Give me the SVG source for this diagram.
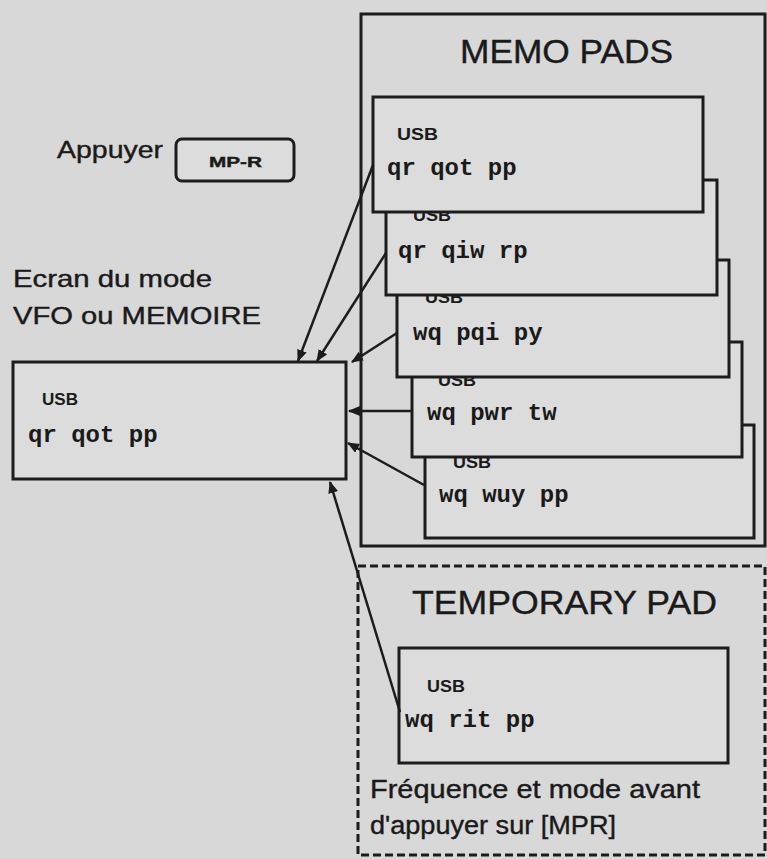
<svg xmlns="http://www.w3.org/2000/svg" width="767" height="859" viewBox="0 0 767 859">
<defs>
<style>
.box{fill:#dcdcdc;stroke:#1c1c1c;stroke-width:3}
.frame{fill:none;stroke:#1c1c1c;stroke-width:3}
.dash{fill:none;stroke:#1c1c1c;stroke-width:3;stroke-dasharray:8 4}
.lbl{font-family:"Liberation Sans",Arial,sans-serif;fill:#1a1a1a;stroke:#1a1a1a;stroke-width:0.4}
.title{font-family:"Liberation Sans",Arial,sans-serif;font-size:33px;fill:#1a1a1a;stroke:#1a1a1a;stroke-width:0.4}
.usb{font-family:"Liberation Sans",Arial,sans-serif;font-size:17px;font-weight:bold;fill:#1a1a1a}
.freq{font-family:"Liberation Mono","Courier New",monospace;font-size:24px;font-weight:bold;fill:#1a1a1a}
.conn{stroke:#1c1c1c;stroke-width:2.5;fill:none;marker-end:url(#ah)}
</style>
<marker id="ah" viewBox="0 0 12 10" refX="11" refY="5" markerWidth="12" markerHeight="10" markerUnits="userSpaceOnUse" orient="auto">
<path d="M0,0 L12,5 L0,10 Z" fill="#1c1c1c"/>
</marker>
</defs>
<rect x="0" y="0" width="767" height="859" fill="#d8d8d8"/>

<g id="appuyer">
<text class="lbl" x="57" y="158" font-size="24" textLength="106" lengthAdjust="spacingAndGlyphs">Appuyer</text>
<rect x="176" y="139" width="118" height="42" rx="6" ry="6" class="box" stroke-width="3.5"/>
<text class="lbl" x="209" y="167" font-size="15" font-weight="bold" textLength="53" lengthAdjust="spacingAndGlyphs">MP-R</text>
</g>

<g id="ecran-label">
<text class="lbl" x="13" y="287" font-size="24" textLength="199" lengthAdjust="spacingAndGlyphs">Ecran du mode</text>
<text class="lbl" x="13" y="324" font-size="24" textLength="248" lengthAdjust="spacingAndGlyphs">VFO ou MEMOIRE</text>
</g>

<g id="memo-pads">
<rect x="361" y="14" width="404" height="532" class="frame"/>
<text class="title" x="460" y="63" textLength="213" lengthAdjust="spacingAndGlyphs">MEMO PADS</text>
</g>

<g id="pad5">
<rect x="425" y="425" width="329" height="113" class="box"/>
<text class="usb" x="453" y="468" textLength="38" lengthAdjust="spacingAndGlyphs">USB</text>
<text class="freq" x="439" y="502">wq wuy pp</text>
</g>
<g id="pad4">
<rect x="412" y="342" width="330" height="115" class="box"/>
<text class="usb" x="438" y="386" textLength="38" lengthAdjust="spacingAndGlyphs">USB</text>
<text class="freq" x="427" y="420">wq pwr tw</text>
</g>
<g id="pad3">
<rect x="397" y="260" width="332" height="117" class="box"/>
<text class="usb" x="425" y="303" textLength="38" lengthAdjust="spacingAndGlyphs">USB</text>
<text class="freq" x="413" y="340">wq pqi py</text>
</g>
<g id="pad2">
<rect x="386" y="180" width="331" height="115" class="box"/>
<text class="usb" x="413" y="221" textLength="38" lengthAdjust="spacingAndGlyphs">USB</text>
<text class="freq" x="398" y="258">qr qiw rp</text>
</g>
<g id="pad1">
<rect x="373" y="97" width="330" height="115" class="box"/>
<text class="usb" x="397" y="140" textLength="41" lengthAdjust="spacingAndGlyphs">USB</text>
<text class="freq" x="387" y="175">qr qot pp</text>
</g>

<g id="current-display">
<rect x="13" y="362" width="333" height="117" class="box"/>
<text class="usb" x="42" y="405" textLength="36" lengthAdjust="spacingAndGlyphs">USB</text>
<text class="freq" x="28" y="442">qr qot pp</text>
</g>

<g id="temporary-pad">
<rect x="358" y="566" width="407" height="289" class="dash"/>
<text class="title" x="412" y="614" textLength="305" lengthAdjust="spacingAndGlyphs">TEMPORARY PAD</text>
<rect x="399" y="648" width="329" height="115" class="box"/>
<text class="usb" x="427" y="692" textLength="38" lengthAdjust="spacingAndGlyphs">USB</text>
<text class="freq" x="405" y="727">wq rit pp</text>
<text class="lbl" x="370" y="798" font-size="25" textLength="330" lengthAdjust="spacingAndGlyphs">Fréquence et mode avant</text>
<text class="lbl" x="370" y="834" font-size="25" textLength="246" lengthAdjust="spacingAndGlyphs">d'appuyer sur [MPR]</text>
</g>

<g id="connectors">
<line class="conn" x1="373" y1="165" x2="298" y2="361"/>
<line class="conn" x1="386" y1="253" x2="317" y2="361"/>
<line class="conn" x1="397" y1="333" x2="352" y2="362"/>
<line class="conn" x1="412" y1="411" x2="349" y2="411"/>
<line class="conn" x1="424" y1="485" x2="348" y2="443"/>
<line class="conn" x1="400" y1="712" x2="330" y2="482"/>
</g>
</svg>
